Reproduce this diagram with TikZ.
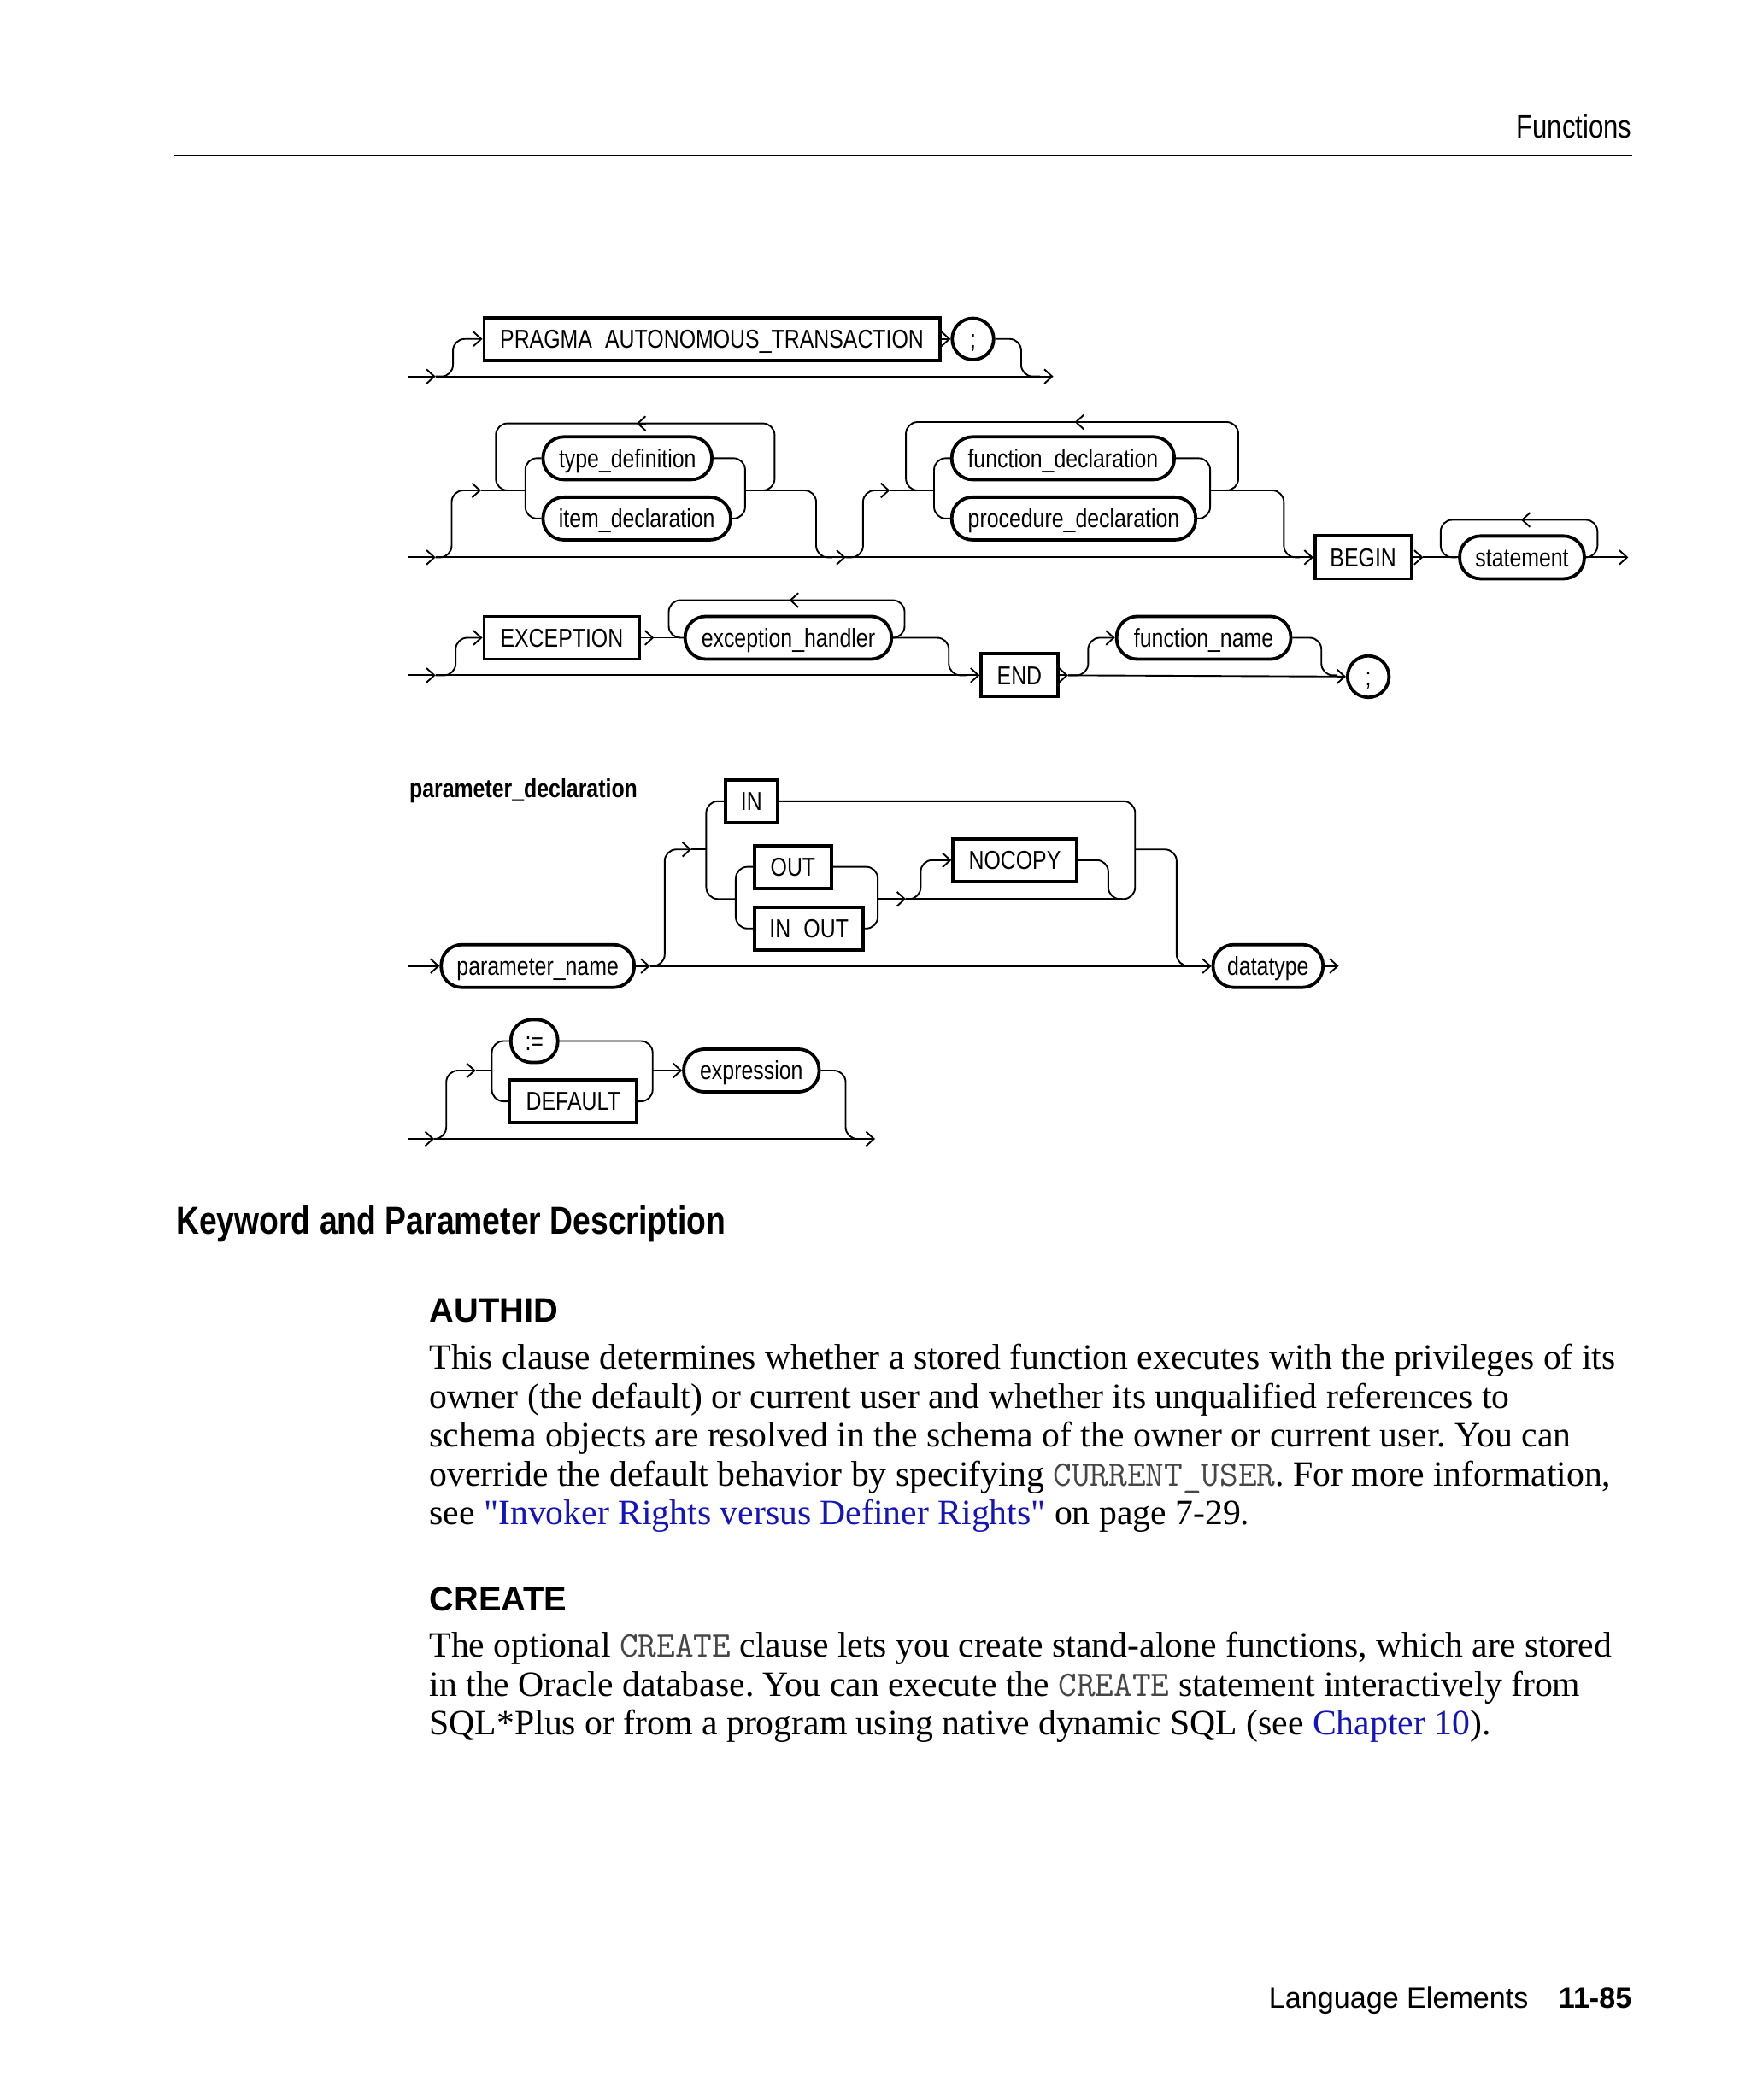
\documentclass[tikz,border=0pt]{standalone}
\usepackage{fontspec}
\setmainfont{Liberation Serif}
\newfontfamily\bodyfont{Liberation Serif}
\newfontfamily\railfont[FakeStretch=0.82]{Liberation Sans}
\newfontfamily\pagefont{Liberation Sans}
\usetikzlibrary{arrows.meta}
\definecolor{linkblue}{RGB}{20,20,190}
\definecolor{codegray}{RGB}{70,70,70}
\newcommand{\codetxt}[1]{{\color{codegray}\fontsize{11.1}{12}\ttfamily #1}}

\tikzset{
  track/.style={line width=0.5pt, rounded corners=3.6pt},
  kw/.style={draw, line width=1pt, rectangle, minimum height=13.2pt, inner xsep=1pt, inner ysep=0pt,
    text height=7pt, text depth=1.3pt, font=\railfont\fontsize{8}{9}\selectfont},
  ident/.style={kw, rounded corners=6.4pt},
  term/.style={kw, circle, minimum size=12.8pt},
  wd/.style={minimum width=#1*0.4135pt},
  body/.style={anchor=base west, inner sep=0pt, font=\bodyfont\fontsize{11}{12}\selectfont\frenchspacing},
  head/.style={anchor=base west, inner sep=0pt, font=\pagefont\bfseries\fontsize{10.5}{12}\selectfont},
}

\begin{document}
\begin{tikzpicture}[x=0.4135pt, y=-0.4135pt, >={Straight Barb[length=2.4pt,width=4.4pt]}]
    \useasboundingbox (0,0) rectangle (1306,1567.4);
    \fill[white] (0,0) rectangle (1306,1567.4);

    % Header
    \node[anchor=base east, inner sep=0pt, font=\railfont\fontsize{10}{12}\selectfont] (hdr) at (1218,103) {Functions};
    \draw[line width=0.5pt] (130,116) coordinate (rulel) -- (1218,116) coordinate (ruler);

    % PRAGMA row
    \coordinate (a0) at (305,281);
    \coordinate (a1) at (325,281);
    \coordinate (a9) at (786,281);
    \node[kw, wd=340, anchor=west] (pragma) at (360,253) {PRAGMA\enspace AUTONOMOUS\_TRANSACTION};
    \node[term] (semia) at (726,253) {;};
    \draw[track,->] (a0) -- (a1);
    \draw[track,->] (a1) -- (a9);
    \draw[track,->] (a1) -- (338,281) -- (338,253) -- (pragma.west);
    \draw[track,->] (pragma) -- (semia);
    \draw[track] (semia.east) -- (762,253) -- (762,281) -- (776,281);

    % Declarations and BEGIN
    \coordinate (b0) at (305,416);
    \coordinate (b1) at (325,416);
    \coordinate (b9) at (1215,416);
    \node[ident, wd=126, anchor=west] (typedef) at (404,342) {type\_definition};
    \node[ident, wd=140, anchor=west] (itemdecl) at (404,387) {item\_declaration};
    \node[ident, wd=166, anchor=west] (funcdecl) at (709,342) {function\_declaration};
    \node[ident, wd=182, anchor=west] (procdecl) at (709,387) {procedure\_declaration};
    \node[kw, wd=72, anchor=west] (beginkw) at (980,416) {BEGIN};
    \node[ident, wd=93, anchor=west] (stmt) at (1088,416) {statement};
    \draw[track,->] (b0) -- (b1);
    \draw[track,->] (b1) -- (beginkw);
    \draw[track,->] (beginkw) -- (1062,416) coordinate (b5);
    \draw[track] (b5) -- (stmt);
    \draw[track,->] (stmt) -- (b9);
    \draw[track,->] (b1) -- (337,416) -- (337,366) -- (359,366);
    \draw[track] (359,366) -- (392,366);
    \draw[track] (typedef.west) -- (392,342) -- (392,387) -- (itemdecl.west);
    \draw[track] (typedef.east) -- (556,342) -- (556,387) -- (itemdecl.east);
    \draw[track] (556,366) -- (609,366) -- (609,416) -- (621,416);
    \draw[track] (566,366) -- (578,366) -- (578,316) -- (370,316) -- (370,366) -- (382,366);
    \draw[track,->] (482,316) -- (475,316);
    \draw[track,->] (616,416) -- (631,416);
    \draw[track,->] (631,416) -- (644,416) -- (644,366) -- (664,366);
    \draw[track] (664,366) -- (697,366);
    \draw[track] (funcdecl.west) -- (697,342) -- (697,387) -- (procdecl.west);
    \draw[track] (funcdecl.east) -- (903,342) -- (903,387) -- (procdecl.east);
    \draw[track] (903,366) -- (958,366) -- (958,416) -- (970,416);
    \draw[track] (913,366) -- (924,366) -- (924,315) -- (676,315) -- (676,366) -- (687,366);
    \draw[track,->] (809,315) -- (802,315);
    \draw[track] (1181,416) -- (1192,416) -- (1192,388) -- (1075,388) -- (1075,416) -- (1087,416);
    \draw[track,->] (1142,388) -- (1135,388);

    % EXCEPTION and END
    \coordinate (c0) at (305,504);
    \coordinate (c1) at (325,504);
    \node[kw, wd=116, anchor=west] (exckw) at (360,476) {EXCEPTION};
    \node[ident, wd=154, anchor=west] (exchand) at (510,476) {exception\_handler};
    \node[kw, wd=57, anchor=west] (endkw) at (731,504) {END};
    \node[ident, wd=130, anchor=west] (funcname) at (832,476) {function\_name};
    \node[term] (semib) at (1021,505) {;};
    \draw[track,->] (c0) -- (c1);
    \draw[track,->] (c1) -- (endkw);
    \draw[track,->] (endkw) -- (797,504) coordinate (c5);
    \draw[track,->] (c5) -- (semib);
    \draw[track,->] (c1) -- (340,504) -- (340,476) -- (exckw.west);
    \draw[track,->] (exckw) -- (488,476) coordinate (c3);
    \draw[track] (c3) -- (exchand);
    \draw[track] (exchand.east) -- (708,476) -- (708,504) -- (721,504);
    \draw[track] (664,476) -- (675,476) -- (675,448) -- (499,448) -- (499,476) -- (510,476);
    \draw[track,->] (596,448) -- (589,448);
    \draw[track,->] (c5) -- (812,504) -- (812,476) -- (funcname.west);
    \draw[track] (funcname.east) -- (986,476) -- (986,504) -- (998,504);

    % parameter_declaration
    \node[anchor=base west, inner sep=0pt, font=\railfont\bfseries\fontsize{8}{9}\selectfont] (pdlabel) at (305,595) {parameter\_declaration};
    \coordinate (d0) at (305,721);
    \coordinate (d9) at (999,721);
    \node[ident, wd=144, anchor=west] (parname) at (328,721) {parameter\_name};
    \node[kw, wd=39, anchor=west] (inkw) at (540,598) {IN};
    \node[kw, wd=57, anchor=west] (outkw) at (562,647) {OUT};
    \node[kw, wd=81, anchor=west] (inoutkw) at (562,693) {IN\enspace OUT};
    \node[kw, wd=92, anchor=west] (nocopy) at (710,642) {NOCOPY};
    \node[ident, wd=82, anchor=west] (dtype) at (904,721) {datatype};
    \draw[track,->] (d0) -- (parname);
    \draw[track,->] (parname) -- (485,721) coordinate (d1);
    \draw[track,->] (d1) -- (dtype);
    \draw[track,->] (dtype) -- (d9);
    \draw[track,->] (d1) -- (496,721) -- (496,634) -- (516,634);
    \draw[track] (516,634) -- (527,634);
    \draw[track] (inkw.west) -- (527,598) -- (527,671) -- (549,671);
    \draw[track] (outkw.west) -- (549,647) -- (549,693) -- (inoutkw.west);
    \draw[track] (outkw.east) -- (655,647) -- (655,693) -- (inoutkw.east);
    \draw[track,->] (655,671) -- (676,671);
    \draw[track] (676,671) -- (837,671);
    \draw[track] (inkw.east) -- (847,598) -- (847,671) -- (835,671);
    \draw[track,->] (676,671) -- (687,671) -- (687,642) -- (nocopy.west);
    \draw[track] (nocopy.east) -- (827,642) -- (827,671) -- (838,671);
    \draw[track] (847,634) -- (878,634) -- (878,721) -- (892,721);

    % default value
    \coordinate (e0) at (305,850);
    \coordinate (e1) at (324,850);
    \coordinate (e9) at (653,850);
    \node[ident, wd=35, anchor=west] (assign) at (380,777) {:=};
    \node[kw, wd=95, anchor=west] (defkw) at (379,822) {DEFAULT};
    \node[ident, wd=101, anchor=west] (expr) at (509,799) {expression};
    \draw[track,->] (e0) -- (e1);
    \draw[track,->] (e1) -- (e9);
    \draw[track,->] (e1) -- (333,850) -- (333,799) -- (355,799);
    \draw[track] (355,799) -- (367,799);
    \draw[track] (assign.west) -- (367,777) -- (367,822) -- (defkw.west);
    \draw[track] (assign.east) -- (487,777) -- (487,822) -- (defkw.east);
    \draw[track,->] (487,799) -- (expr);
    \draw[track] (expr.east) -- (631,799) -- (631,850) -- (643,850);

    % Description text
    \node[anchor=base west, inner sep=0pt, font=\railfont\bfseries\fontsize{12}{14}\selectfont] (kwhead) at (131,921) {Keyword and Parameter Description};
    \node[head] (authid) at (320,987) {AUTHID};
    \node[body] (la1) at (320,1022) {This clause determines whether a stored function executes with the privileges of its};
    \node[body] (la2) at (320,1051) {owner (the default) or current user and whether its unqualified references to};
    \node[body] (la3) at (320,1080) {schema objects are resolved in the schema of the owner or current user. You can};
    \node[body] (la4) at (320,1109) {override the default behavior by specifying \codetxt{CURRENT\_USER}. For more information,};
    \node[body] (la5) at (320,1138) {see {\color{linkblue}"Invoker Rights versus Definer Rights"} on page 7-29.};
    \node[head] (create) at (320,1202) {CREATE};
    \node[body] (lc1) at (320,1237) {The optional \codetxt{CREATE} clause lets you create stand-alone functions, which are stored};
    \node[body] (lc2) at (320,1266) {in the Oracle database. You can execute the \codetxt{CREATE} statement interactively from};
    \node[body] (lc3) at (320,1295) {SQL*Plus or from a program using native dynamic SQL (see {\color{linkblue}Chapter 10}).};

    % Footer
    \node[anchor=base east, inner sep=0pt, font=\pagefont\bfseries\fontsize{9}{11}\selectfont] (pgnum) at (1218,1499) {11-85};
    \node[anchor=base east, inner sep=0pt, font=\pagefont\fontsize{9}{11}\selectfont] (ftitle) at (1141,1499) {Language Elements};
\end{tikzpicture}
\end{document}
